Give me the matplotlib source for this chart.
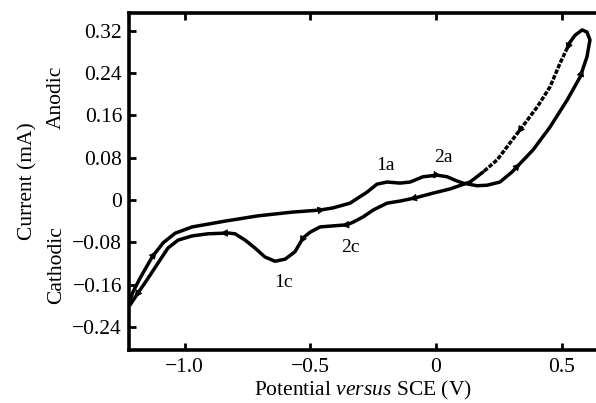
import numpy as np
import matplotlib
matplotlib.use('Agg')
import matplotlib.pyplot as plt
from matplotlib.ticker import FixedLocator, FuncFormatter

plt.rcParams['font.family'] = 'Liberation Serif'
plt.rcParams['mathtext.fontset'] = 'custom'
plt.rcParams['mathtext.it'] = 'Liberation Serif:italic'
plt.rcParams['mathtext.rm'] = 'Liberation Serif'

# Anodic sweep (V, mA)
anodic_v = [-1.221, -1.205, -1.177, -1.129, -1.085, -1.038, -0.970, -0.839, -0.708, -0.573,
            -0.461, -0.410, -0.342, -0.274, -0.235, -0.195, -0.143, -0.103, -0.052, 0.004,
            0.044, 0.083, 0.107, 0.163, 0.203, 0.254, 0.302, 0.386, 0.453, 0.521,
            0.573, 0.600, 0.612, 0.600, 0.581, 0.553, 0.533]
anodic_i = [-0.195, -0.174, -0.148, -0.108, -0.081, -0.063, -0.051, -0.040, -0.030, -0.023,
            -0.019, -0.015, -0.006, 0.015, 0.030, 0.034, 0.032, 0.034, 0.044, 0.047,
            0.044, 0.036, 0.032, 0.027, 0.028, 0.034, 0.053, 0.095, 0.138, 0.189,
            0.233, 0.271, 0.303, 0.318, 0.322, 0.312, 0.299]

# Cathodic sweep
cathodic_v = [0.533, 0.493, 0.453, 0.402, 0.342, 0.294, 0.243, 0.187, 0.135, 0.056,
              -0.012, -0.083, -0.143, -0.195, -0.250, -0.290, -0.330, -0.354, -0.410, -0.461,
              -0.501, -0.529, -0.561, -0.600, -0.640, -0.680, -0.720, -0.759, -0.799, -0.827,
              -0.907, -0.970, -1.026, -1.066, -1.105, -1.145, -1.185, -1.217]
cathodic_i = [0.299, 0.259, 0.214, 0.176, 0.138, 0.108, 0.076, 0.053, 0.034, 0.021,
              0.013, 0.004, -0.002, -0.006, -0.019, -0.032, -0.042, -0.047, -0.049, -0.051,
              -0.061, -0.072, -0.098, -0.112, -0.116, -0.108, -0.091, -0.076, -0.064, -0.0625,
              -0.064, -0.068, -0.076, -0.091, -0.119, -0.148, -0.176, -0.199]

dash_end = 7  # dashed part of cathodic branch
anodic_arrows = [3, 10, 19, 26, 30]
cathodic_arrows = [0, 4, 11, 17, 21, 29, 36]

peak_names = ['1a', '2a', '2c', '1c']
peak_v = [-0.203, 0.028, -0.342, -0.608]
peak_i = [0.066, 0.080, -0.090, -0.157]

x_ticks = [-1.0, -0.5, 0.0, 0.5]
y_ticks = [-0.24, -0.16, -0.08, 0.0, 0.08, 0.16, 0.24, 0.32]

fig = plt.figure(figsize=(5.96, 4.03), dpi=100)
ax = fig.add_axes([0.2164, 0.1315, 0.7836, 0.8362])

lw = 2.5
ax.plot(anodic_v, anodic_i, color='black', lw=lw, solid_capstyle='round',
        solid_joinstyle='round')
ax.plot(cathodic_v[:dash_end + 1], cathodic_i[:dash_end + 1], color='black', lw=lw,
        linestyle=(0, (1.3, 0.45)))
ax.plot(cathodic_v[dash_end:], cathodic_i[dash_end:], color='black', lw=lw,
        solid_capstyle='round', solid_joinstyle='round')


def draw_arrows(vs, cs, idxs):
    for k in idxs:
        x0, y0 = vs[k], cs[k]
        x1, y1 = vs[k + 1], cs[k + 1]
        ax.annotate('', xy=(x0 + 0.4 * (x1 - x0), y0 + 0.4 * (y1 - y0)), xytext=(x0, y0),
                    arrowprops=dict(arrowstyle='-|>', color='black', lw=0.5,
                                    mutation_scale=12, shrinkA=0, shrinkB=0))


draw_arrows(anodic_v, anodic_i, anodic_arrows)
draw_arrows(cathodic_v, cathodic_i, cathodic_arrows)

for name, v, c in zip(peak_names, peak_v, peak_i):
    ax.text(v, c, name, fontsize=14, ha='center', va='center')

ax.set_xlim(-1.221, 0.636)
ax.set_ylim(-0.284, 0.354)

ax.xaxis.set_major_locator(FixedLocator(x_ticks))
ax.yaxis.set_major_locator(FixedLocator(y_ticks))


def fmt_x(v, pos):
    if abs(v) < 1e-9:
        return '0'
    return f'{v:.1f}'.replace('-', '\u2212')


def fmt_y(v, pos):
    if abs(v) < 1e-9:
        return '0'
    return f'{v:.2f}'.replace('-', '\u2212')


ax.xaxis.set_major_formatter(FuncFormatter(fmt_x))
ax.yaxis.set_major_formatter(FuncFormatter(fmt_y))

ax.tick_params(direction='in', length=5, width=2, labelsize=15.5, top=True, right=False)
ax.tick_params(axis='x', pad=6)
ax.tick_params(axis='y', pad=5)

for side in ['left', 'bottom', 'top']:
    ax.spines[side].set_linewidth(2.6)
ax.spines['right'].set_visible(False)

ax.set_xlabel(r'Potential $\it{versus}$ SCE (V)', fontsize=15.5, labelpad=1)
ax.set_ylabel('Current (mA)', fontsize=15.5)
ax.yaxis.set_label_coords(-0.195, 0.5)

ax.text(-0.155, 0.195, 'Anodic', fontsize=15.5, rotation=90, ha='center', va='center',
        transform=ax.get_yaxis_transform())
ax.text(-0.155, -0.123, 'Cathodic', fontsize=15.5, rotation=90, ha='center', va='center',
        transform=ax.get_yaxis_transform())

fig.savefig('out.png', dpi=100)
